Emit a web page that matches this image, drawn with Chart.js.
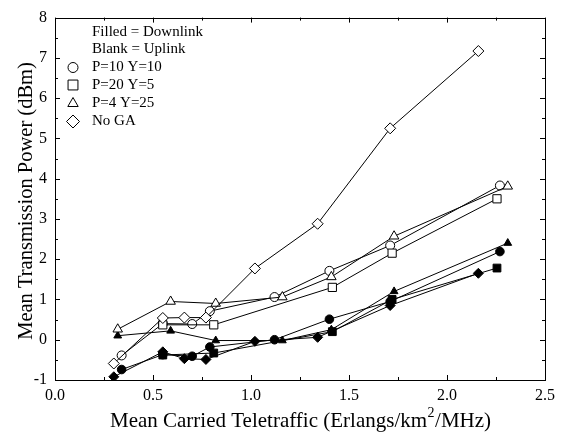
<!DOCTYPE html>
<html>
<head>
<meta charset="utf-8">
<script src="https://cdn.jsdelivr.net/npm/chart.js@4.4.1/dist/chart.umd.min.js"></script>
<style>
  html, body { margin: 0; padding: 0; background: #fff; }
  #wrap { width: 568px; height: 432px; }
</style>
</head>
<body>
<div id="wrap"><canvas id="c" width="568" height="432"></canvas></div>
<script>
// ---- Data ----
const noGA_x    = [0.30, 0.55, 0.66, 0.77, 1.02, 1.34, 1.71, 2.16];
const noGA_up   = [-0.59, 0.54, 0.55, 0.55, 1.77, 2.88, 5.25, 7.17];
const noGA_down = [-0.92, -0.30, -0.47, -0.49, -0.04, 0.06, 0.85, 1.65];

const p10_x    = [0.34, 0.55, 0.70, 0.79, 1.12, 1.40, 1.71, 2.27];
const p10_up   = [-0.39, 0.40, 0.39, 0.71, 1.06, 1.71, 2.34, 3.83];
const p10_down = [-0.74, -0.37, -0.41, -0.18, 0.00, 0.51, 0.95, 2.19];

const p20_x    = [0.55, 0.81, 1.415, 1.72, 2.255];
const p20_up   = [0.37, 0.37, 1.30, 2.15, 3.50];
const p20_down = [-0.38, -0.33, 0.20, 1.00, 1.78];

const p4_x    = [0.32, 0.59, 0.82, 1.16, 1.41, 1.73, 2.31];
const p4_up   = [0.26, 0.95, 0.90, 1.06, 1.56, 2.57, 3.81];
const p4_down = [0.10, 0.22, -0.02, -0.02, 0.25, 1.20, 2.40];

const xTicks = [0.0, 0.5, 1.0, 1.5, 2.0, 2.5];
const yTicks = [-1, 0, 1, 2, 3, 4, 5, 6, 7, 8];

const legendHeader = ['Filled = Downlink', 'Blank = Uplink'];
const legendLabels = ['P=10 Y=10', 'P=20 Y=5', 'P=4 Y=25', 'No GA'];
const legendStyles = ['circle', 'rect', 'triangle', 'rectRot'];

const xTitle = ['Mean Carried Teletraffic (Erlangs/km', '2', '/MHz)'];
const yTitle = 'Mean Transmission Power (dBm)';

const FONT = '"Liberation Serif", "DejaVu Serif", serif';

function pts(xs, ys) { return xs.map((x, i) => ({ x: x, y: ys[i] })); }

const openR = { circle: 4.5, rect: 5.8, triangle: 5.5, rectRot: 5.5 };
const fillR = { circle: 4.3, rect: 5.5, triangle: 4.5, rectRot: 5 };

function ds(xs, ys, style, filled, order) {
  const r = filled ? fillR[style] : openR[style];
  return {
    data: pts(xs, ys),
    showLine: true,
    borderColor: '#000',
    borderWidth: 1,
    pointStyle: style,
    pointRadius: r,
    pointHoverRadius: r,
    pointBackgroundColor: filled ? '#000' : '#fff',
    pointBorderColor: '#000',
    pointBorderWidth: 1,
    fill: false,
    tension: 0,
    order: order
  };
}

const datasets = [
  ds(noGA_x, noGA_down, 'rectRot', true, 5),
  ds(p10_x, p10_down, 'circle', true, 6),
  ds(p20_x, p20_down, 'rect', true, 4),
  ds(p4_x, p4_down, 'triangle', true, 7),
  ds(p10_x, p10_up, 'circle', false, 3),
  ds(p20_x, p20_up, 'rect', false, 2),
  ds(p4_x, p4_up, 'triangle', false, 1),
  ds(noGA_x, noGA_up, 'rectRot', false, 0)
];

const decor = {
  id: 'decor',
  afterDraw(chart) {
    const ctx = chart.ctx;
    const a = chart.chartArea;
    const xs = chart.scales.x, ys = chart.scales.y;
    ctx.save();
    ctx.strokeStyle = '#000';
    ctx.lineWidth = 1;
    // box
    ctx.strokeRect(Math.round(a.left) + 0.5, Math.round(a.top) + 0.5,
                   Math.round(a.right - a.left), Math.round(a.bottom - a.top));
    // ticks (inward)
    ctx.beginPath();
    for (let v = 0; v <= 2.5001; v += 0.25) {
      const px = Math.round(xs.getPixelForValue(v)) + 0.5;
      const major = Math.abs(v / 0.5 - Math.round(v / 0.5)) < 1e-6;
      const L = major ? 5 : 3;
      ctx.moveTo(px, a.bottom); ctx.lineTo(px, a.bottom - L);
      ctx.moveTo(px, a.top); ctx.lineTo(px, a.top + L);
    }
    for (let v = -1; v <= 8.0001; v += 0.5) {
      const py = Math.round(ys.getPixelForValue(v)) + 0.5;
      const major = Math.abs(v - Math.round(v)) < 1e-6;
      const L = major ? 5 : 3;
      ctx.moveTo(a.left, py); ctx.lineTo(a.left + L, py);
      ctx.moveTo(a.right, py); ctx.lineTo(a.right - L, py);
    }
    ctx.stroke();

    // axis titles
    ctx.fillStyle = '#000';
    const big = '21px ' + FONT, sup = '14px ' + FONT;
    ctx.textBaseline = 'alphabetic';
    ctx.font = big;
    const w0 = ctx.measureText(xTitle[0]).width;
    ctx.font = sup;
    const w1 = ctx.measureText(xTitle[1]).width;
    ctx.font = big;
    const w2 = ctx.measureText(xTitle[2]).width;
    const cx = (a.left + a.right) / 2;
    let sx = cx - (w0 + w1 + w2) / 2;
    const by = 427;
    ctx.textAlign = 'left';
    ctx.fillText(xTitle[0], sx, by);
    ctx.font = sup;
    ctx.fillText(xTitle[1], sx + w0 + 0.5, by - 10);
    ctx.font = big;
    ctx.fillText(xTitle[2], sx + w0 + w1 + 1, by);

    ctx.save();
    ctx.translate(32, 201);
    ctx.rotate(-Math.PI / 2);
    ctx.textAlign = 'center';
    ctx.textBaseline = 'alphabetic';
    ctx.font = '20.5px ' + FONT;
    ctx.fillText(yTitle, 0, 0);
    ctx.restore();

    // legend
    ctx.font = '15px ' + FONT;
    ctx.textAlign = 'left';
    ctx.textBaseline = 'middle';
    const tx = 92;
    const hy = [32, 49];
    legendHeader.forEach((t, i) => ctx.fillText(t, tx, hy[i]));
    const ly = [67.5, 85, 103.5, 121.5];
    legendLabels.forEach((t, i) => {
      ctx.fillText(t, tx, ly[i]);
      ctx.fillStyle = '#fff';
      ctx.strokeStyle = '#000';
      ctx.lineWidth = 1;
      const st = legendStyles[i];
      const r = { circle: 5, rect: 7, triangle: 6, rectRot: 6.5 }[st];
      Chart.helpers.drawPoint(ctx, { pointStyle: st, radius: r, borderWidth: 1 }, 73, ly[i]);
      ctx.fillStyle = '#000';
    });
    ctx.restore();
  }
};

new Chart(document.getElementById('c'), {
  type: 'scatter',
  data: { datasets: datasets },
  options: {
    responsive: false,
    animation: false,
    devicePixelRatio: 1,
    layout: { padding: { top: 12, right: 23, left: 0, bottom: 0 } },
    plugins: {
      legend: { display: false },
      tooltip: { enabled: false }
    },
    scales: {
      x: {
        type: 'linear',
        min: 0, max: 2.5,
        afterFit(s) { s.height = 52; },
        afterBuildTicks(s) { s.ticks = xTicks.map(v => ({ value: v })); },
        ticks: {
          color: '#000',
          font: { family: FONT, size: 16 },
          padding: 6,
          maxRotation: 0,
          callback: v => Number(v).toFixed(1)
        },
        grid: { display: false, drawTicks: false },
        border: { display: false }
      },
      y: {
        type: 'linear',
        min: -1, max: 8,
        afterFit(s) { s.width = 55; },
        afterBuildTicks(s) { s.ticks = yTicks.map(v => ({ value: v })); },
        ticks: {
          color: '#000',
          font: { family: FONT, size: 16 },
          padding: 8,
          callback: v => String(v)
        },
        grid: { display: false, drawTicks: false },
        border: { display: false }
      }
    }
  },
  plugins: [decor]
});
</script>
</body>
</html>
